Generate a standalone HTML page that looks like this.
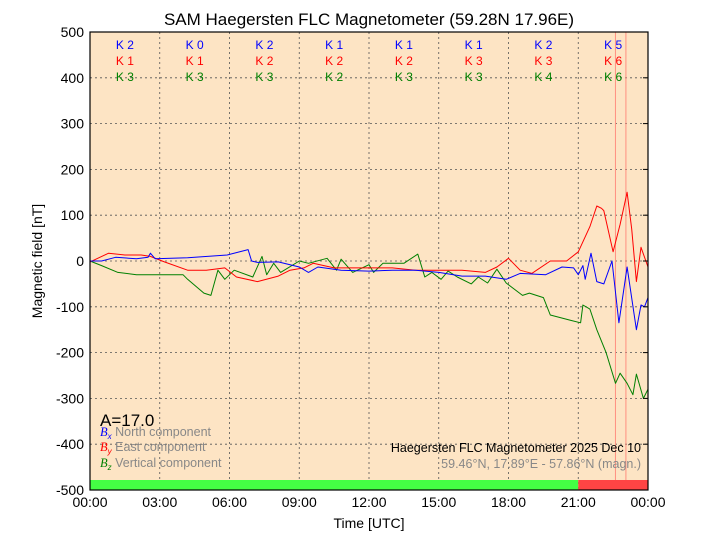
<!DOCTYPE html>
<html><head><meta charset="utf-8"><style>
html,body{margin:0;padding:0;background:#fff;}
svg{display:block;font-family:"Liberation Sans",Arial,sans-serif;}
</style></head><body>
<svg id="chart" width="720" height="540" viewBox="0 0 720 540" xmlns="http://www.w3.org/2000/svg">
<rect x="0" y="0" width="720" height="540" fill="#fff"/>
<text x="369" y="25" font-size="17" text-anchor="middle">SAM Haegersten FLC Magnetometer (59.28N 17.96E)</text>
<rect x="90" y="32" width="558" height="458" fill="#fde4c4"/>
<g id="grid"></g>
<g id="kvals"></g>
<g id="series"></g>
<rect x="90" y="32" width="558" height="458" fill="none" stroke="#000" stroke-width="1.2"/>
<g id="ticks"></g>
<text transform="translate(42,261) rotate(-90)" font-size="14" text-anchor="middle">Magnetic field [nT]</text>
<text x="369" y="528" font-size="14" text-anchor="middle">Time [UTC]</text>
<text x="100" y="426" font-size="17">A=17.0</text>
<g font-size="12.5">
<text x="100" y="436"><tspan fill="#0000ff" font-style="italic" font-family="Liberation Serif,serif">B</tspan><tspan fill="#0000ff" font-style="italic" font-size="8" dy="3">x</tspan><tspan fill="#888" dy="-3"> North component</tspan></text>
<text x="100" y="451"><tspan fill="#ff0000" font-style="italic" font-family="Liberation Serif,serif">B</tspan><tspan fill="#ff0000" font-style="italic" font-size="8" dy="3">y</tspan><tspan fill="#888" dy="-3"> East component</tspan></text>
<text x="100" y="467"><tspan fill="#008000" font-style="italic" font-family="Liberation Serif,serif">B</tspan><tspan fill="#008000" font-style="italic" font-size="8" dy="3">z</tspan><tspan fill="#888" dy="-3"> Vertical component</tspan></text>
</g>
<text x="641" y="452" font-size="12.5" text-anchor="end">Haegersten FLC Magnetometer 2025 Dec 10</text>
<text x="641" y="468" font-size="12.5" text-anchor="end" fill="#888">59.46°N, 17.89°E - 57.86°N (magn.)</text>
</svg>
<script>
const yTicks=[-500,-400,-300,-200,-100,0,100,200,300,400,500];
const xTicks=[0,3,6,9,12,15,18,21,24];
const xTickLabels=["00:00","03:00","06:00","09:00","12:00","15:00","18:00","21:00","00:00"];
const kX=["K 2","K 0","K 2","K 1","K 1","K 1","K 2","K 5"];
const kY=["K 1","K 1","K 2","K 2","K 2","K 3","K 3","K 6"];
const kZ=["K 3","K 3","K 3","K 2","K 3","K 3","K 4","K 6"];
const markerHours=[22.6,23.05];
const statusStart=[0,21];
const statusEnd=[21,24];
const statusColor=["#44ff44","#ff4444"];
const bxT=[0,0.5,1.1,2,2.5,2.6,2.8,4.2,5.9,6.8,6.95,7.2,8.1,9,9.4,9.8,10.8,12,13,14,15,16,17,17.9,18.5,19.6,20.3,20.8,21,21.2,21.3,21.55,21.8,22.1,22.45,22.75,23.1,23.5,23.7,23.85,24];
const bxV=[0,0,8,5,8,17,5,7,13,25,0,-3,-2,-13,-25,-13,-20,-22,-20,-20,-25,-33,-33,-40,-27,-30,-13,-15,-30,-10,-40,17,-45,-50,0,-135,-13,-150,-96,-100,-80];
const byT=[0,0.8,1.5,2.2,2.6,3.2,4.2,5,5.8,6.3,7.2,8.1,8.6,9.2,9.6,10.5,12,13,14,15,16,17,17.5,18,18.5,19,19.8,20.5,21,21.5,21.8,22,22.1,22.5,22.8,23.1,23.3,23.5,23.7,24];
const byV=[-2,17,13,13,10,-2,-20,-20,-15,-35,-45,-33,-20,-15,-5,-15,-15,-15,-20,-20,-20,-25,-13,6,-20,-27,0,0,20,75,120,115,110,20,80,150,70,-45,30,-13];
const bzT=[0,0.5,1.2,2,4,4.2,4.9,5.2,5.5,5.8,6.2,7,7.4,7.6,7.9,8.2,9,9.4,10.2,10.6,10.8,11.3,12,12.2,12.6,13.5,14.1,14.4,14.7,15.1,15.4,15.8,16.4,16.7,17.1,17.5,17.9,18.6,18.9,19.5,19.8,20.7,21.1,21.2,21.5,21.8,22.2,22.6,22.8,23.1,23.35,23.5,23.8,24];
const bzV=[0,-10,-25,-30,-30,-40,-70,-75,-20,-40,-20,-35,10,-30,-5,-25,0,-5,6,-20,4,-25,-8,-25,-5,-5,15,-35,-25,-40,-22,-35,-50,-35,-48,-18,-48,-75,-70,-80,-118,-130,-135,-96,-105,-150,-200,-267,-245,-267,-292,-247,-300,-280];

const NS="http://www.w3.org/2000/svg";
const L=90,R=648,T=32,B=490;
const xs=h=>L+(R-L)*h/24;
const ys=v=>B-(B-T)*(v+500)/1000;
function mk(tag,attrs,parent){const e=document.createElementNS(NS,tag);for(const k in attrs)e.setAttribute(k,attrs[k]);document.getElementById(parent).appendChild(e);return e;}

yTicks.forEach(v=>{
  const g=mk('line',{x1:L,x2:R,y1:ys(v),y2:ys(v),stroke:'#555','stroke-width':0.8,'stroke-dasharray':'2,3'},'grid');
  
  
  const t=mk('text',{x:L-6,y:ys(v)+5,'font-size':14,'text-anchor':'end'},'ticks');
  t.textContent=v;
  
  
  const tk=mk('line',{x1:R-5,x2:R,y1:ys(v),y2:ys(v),stroke:'#000'},'ticks');
  
  
});
xTicks.forEach((h,i)=>{
  const g=mk('line',{x1:xs(h),x2:xs(h),y1:T,y2:B,stroke:'#555','stroke-width':0.8,'stroke-dasharray':'2,3'},'grid');
  
  
  const t=mk('text',{x:xs(h),y:B+17,'font-size':14,'text-anchor':'middle'},'ticks');
  t.textContent=xTickLabels[i];
  
  
});
markerHours.forEach(h=>{
  const m=mk('line',{x1:xs(h),x2:xs(h),y1:T,y2:B,stroke:'#ff9080','stroke-width':1},'grid');
  
  
});
statusStart.forEach((s,i)=>{
  const r=mk('rect',{x:xs(s),y:B-10,width:xs(statusEnd[i])-xs(s),height:10,fill:statusColor[i]},'grid');
  
  
});
[[kX,'#0000ff',45],[kY,'#ff0000',61],[kZ,'#008000',77]].forEach(([arr,col,y])=>{
  arr.forEach((k,i)=>{
    const t=mk('text',{x:xs(1.5+3*i),y:y+4,'font-size':12,'text-anchor':'middle',fill:col},'kvals');
    t.textContent=k;
    
    
  });
});
function line(tArr,vArr,col,name){
  const d=tArr.map((t,i)=>(i?'L':'M')+xs(t).toFixed(1)+','+ys(vArr[i]).toFixed(1)).join('');
  const p=mk('path',{d:d,fill:'none',stroke:col,'stroke-width':1,'stroke-linejoin':'round'},'series');
  
  
}
line(bzT,bzV,'#008000','bz-line');
line(byT,byV,'#ff0000','by-line');
line(bxT,bxV,'#0000ff','bx-line');
</script>
</body></html>
